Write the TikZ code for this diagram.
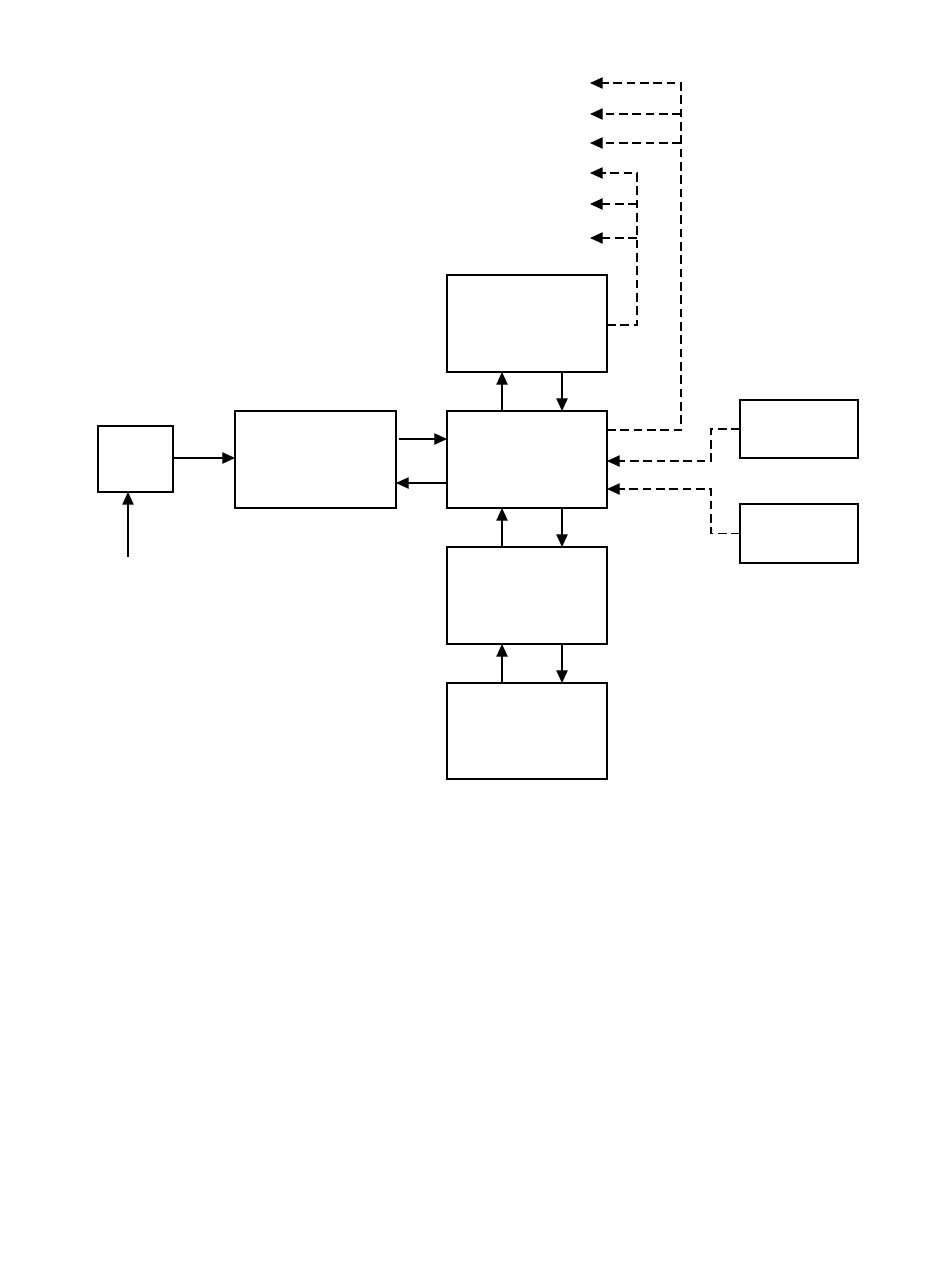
\documentclass[tikz,border=0pt]{standalone}
\usetikzlibrary{arrows.meta}
\begin{document}
\begin{tikzpicture}[x=0.75pt,y=-0.75pt,
  box/.style={draw, line width=0.9pt, inner sep=0pt, outer sep=0pt},
  arr/.style={line width=0.9pt, -{Triangle[length=9.5pt,width=8.5pt]}},
  darr/.style={line width=0.9pt, dash pattern=on 6.5pt off 3.5pt, -{Triangle[length=9.5pt,width=8.5pt]}}]
\useasboundingbox (0,0) rectangle (950,1267);
\fill[white] (0,0) rectangle (950,1267);
% boxes
\node[box, minimum width=56.25pt, minimum height=49.5pt] (A) at (135.5,459) {};
\node[box, minimum width=120.75pt, minimum height=72.75pt] (B) at (315.5,459.5) {};
\node[box, minimum width=120pt, minimum height=72.75pt] (C) at (527,459.5) {};
\node[box, minimum width=120pt, minimum height=72.75pt] (T) at (527,323.5) {};
\node[box, minimum width=120pt, minimum height=72.75pt] (D1) at (527,595.5) {};
\node[box, minimum width=120pt, minimum height=72pt] (D2) at (527,731) {};
\node[box, minimum width=88.5pt, minimum height=43.5pt] (R1) at (799,429) {};
\node[box, minimum width=88.5pt, minimum height=44.25pt] (R2) at (799,533.5) {};
% solid connectors
\coordinate (in) at (128,557);
\draw[arr] (in) -- (A.south -| in);
\draw[arr] (A.east |- 0,458) -- (B.west |- 0,458);
\draw[arr] ([xshift=2.25pt]B.east |- 0,439) -- (C.west |- 0,439);
\draw[arr] (C.west |- 0,483) -- (B.east |- 0,483);
\draw[arr] (C.north -| 502,0) -- (T.south -| 502,0);
\draw[arr] (T.south -| 562,0) -- (C.north -| 562,0);
\draw[arr] (D1.north -| 502,0) -- (C.south -| 502,0);
\draw[arr] (C.south -| 562,0) -- (D1.north -| 562,0);
\draw[arr] (D2.north -| 502,0) -- (D1.south -| 502,0);
\draw[arr] (D1.south -| 562,0) -- (D2.north -| 562,0);
% dashed outputs from C
\coordinate (o1) at (590,83);
\coordinate (o2) at (590,114);
\coordinate (o3) at (590,143);
\coordinate (j2) at (681,114);
\coordinate (j3) at (681,143);
\draw[darr] (C.east |- 0,430) -- (681,430) -- (681,83) -- (o1);
\draw[darr] (j2) -- (o2);
\draw[darr] (j3) -- (o3);
% dashed outputs from T
\coordinate (o4) at (590,173);
\coordinate (o5) at (590,204);
\coordinate (o6) at (590,238);
\coordinate (j5) at (637,204);
\coordinate (j6) at (637,238);
\draw[darr] (T.east |- 0,325) -- (637,325) -- (637,173) -- (o4);
\draw[darr] (j5) -- (o5);
\draw[darr] (j6) -- (o6);
% dashed inputs to C
\draw[darr] (R1.west) -- (711,429) -- (711,461) -- (C.east |- 0,461);
\draw[darr] (R2.west) -- (711,533.5) -- (711,489) -- (C.east |- 0,489);
\end{tikzpicture}
\end{document}
